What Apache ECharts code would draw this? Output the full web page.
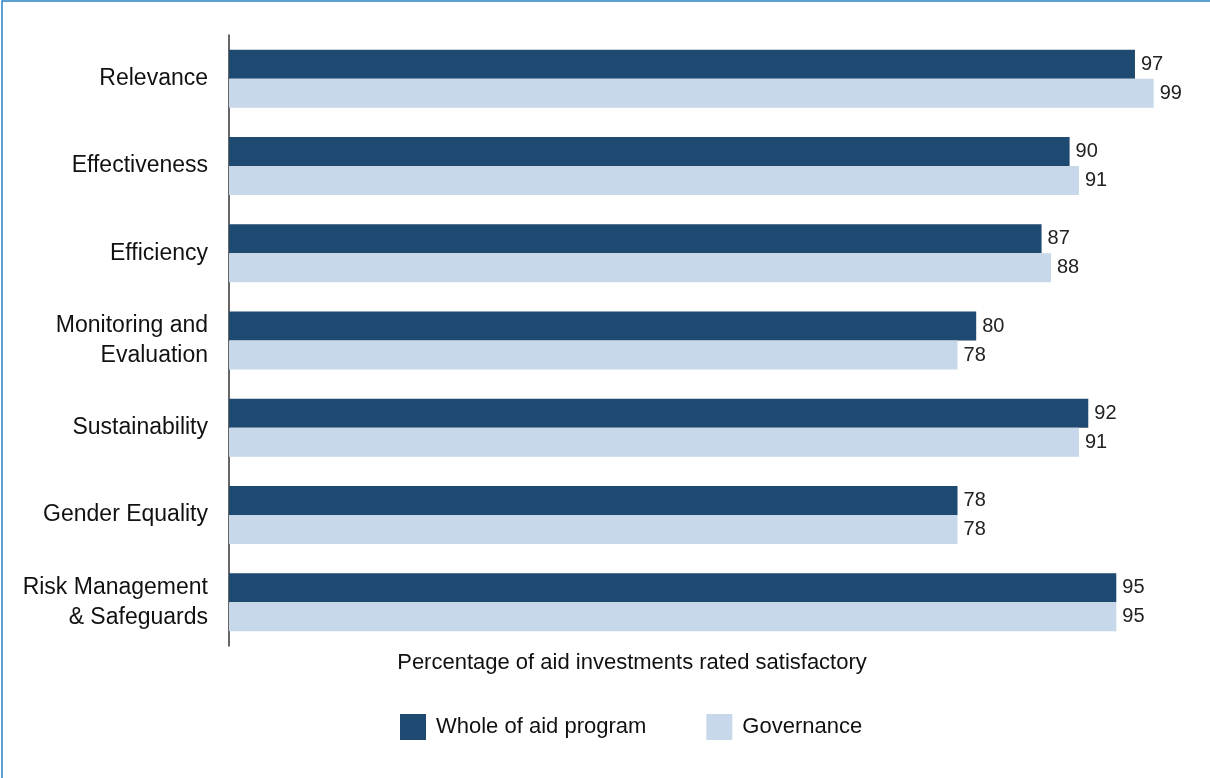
<!DOCTYPE html>
<html>
<head>
<meta charset="utf-8">
<script src="https://cdn.jsdelivr.net/npm/echarts@6/dist/echarts.min.js"></script>
<style>
html,body{margin:0;padding:0;background:#fff;}
#main{width:1210px;height:778px;}
</style>
</head>
<body>
<div id="main"></div>
<script>
const categories = ['Relevance', 'Effectiveness', 'Efficiency', 'Monitoring and\nEvaluation', 'Sustainability', 'Gender Equality', 'Risk Management\n& Safeguards'];
const wholeOfAid = [97, 90, 87, 80, 92, 78, 95];
const governance = [99, 91, 88, 78, 91, 78, 95];
const seriesNames = ['Whole of aid program', 'Governance'];
const axisTitle = 'Percentage of aid investments rated satisfactory';

const FONT = '"Liberation Sans Narrow", "Liberation Sans", Arial, sans-serif';
const chart = echarts.init(document.getElementById('main'), null, {renderer: 'canvas'});
chart.setOption({
  animation: false,
  textStyle: {fontFamily: FONT},
  grid: {left: 229, right: 47, top: 35, bottom: 132, containLabel: false},
  legend: {
    top: 709, left: 395,
    icon: 'rect',
    itemWidth: 26, itemHeight: 26, itemGap: 60,
    textStyle: {fontFamily: FONT, fontSize: 22, color: '#111', padding: [0, 0, 0, 5]},
    data: seriesNames
  },
  graphic: [
    {type: 'rect', shape: {x: 2, y: 1, width: 1400, height: 1000}, style: {fill: 'none', stroke: '#2a80c4', lineWidth: 1.5}, silent: true},
    {type: 'text', x: 632, y: 663, style: {text: axisTitle, font: '22px ' + FONT, fill: '#111', align: 'center', verticalAlign: 'middle'}}
  ],
  xAxis: {
    type: 'value', min: 0, max: 100,
    axisLine: {show: false}, axisTick: {show: false}, axisLabel: {show: false}, splitLine: {show: false}
  },
  yAxis: {
    type: 'category', inverse: true, data: categories,
    axisLine: {show: true, lineStyle: {color: '#333', width: 1.5}},
    axisTick: {show: false},
    axisLabel: {fontFamily: FONT, fontSize: 23, color: '#111', margin: 21, lineHeight: 30, align: 'right'}
  },
  series: [
    {name: seriesNames[0], type: 'bar', data: wholeOfAid, barWidth: 29, barGap: '0%',
     itemStyle: {color: '#1e4970'},
     label: {show: true, position: 'right', distance: 6, fontFamily: FONT, fontSize: 20, color: '#222'}},
    {name: seriesNames[1], type: 'bar', data: governance, barWidth: 29,
     itemStyle: {color: '#c6d8ea'},
     label: {show: true, position: 'right', distance: 6, fontFamily: FONT, fontSize: 20, color: '#222'}}
  ]
});
</script>
</body>
</html>
